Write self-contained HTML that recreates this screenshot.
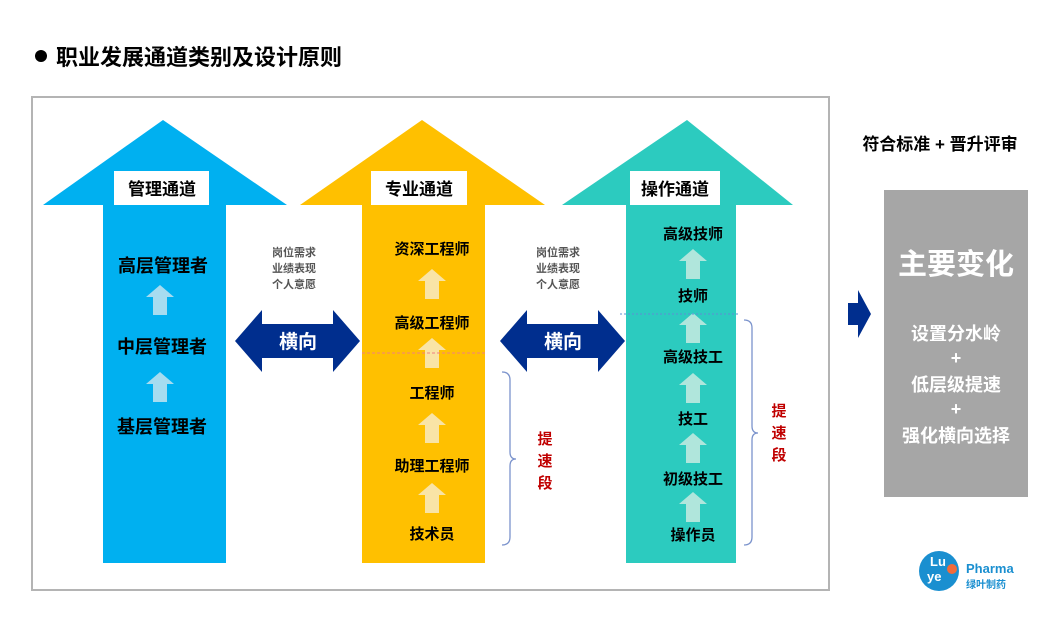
<!DOCTYPE html>
<html><head><meta charset="utf-8"><style>
body{margin:0;background:#fff;}
svg text{font-family:"Liberation Sans","Noto Sans CJK SC",sans-serif;font-weight:bold;}
</style></head><body>
<svg width="1057" height="631" viewBox="0 0 1057 631" xmlns="http://www.w3.org/2000/svg">
<defs>
<g id="ua"><polygon points="0,-15 -14,-3 -7,-3 -7,15 7,15 7,-3 14,-3"/></g>
</defs>
<circle cx="41" cy="56" r="6" fill="#000"/>
<text x="56" y="65" font-size="22" fill="#000">职业发展通道类别及设计原则</text>
<rect x="32" y="97" width="797" height="493" fill="none" stroke="#b4b4b4" stroke-width="2"/>

<!-- blue arrow -->
<polygon points="163,120 287,205 226,205 226,563 103,563 103,205 43,205" fill="#00b0f0"/>
<rect x="114" y="171" width="95" height="34" fill="#fff"/>
<text x="162" y="195" font-size="17" text-anchor="middle">管理通道</text>
<g fill="#000" font-size="18" text-anchor="middle">
<text x="163" y="272">高层管理者</text>
<text x="162" y="353">中层管理者</text>
<text x="162" y="433">基层管理者</text>
</g>
<g fill="#a6dcf0"><use href="#ua" x="160" y="300"/><use href="#ua" x="160" y="387"/></g>

<!-- yellow arrow -->
<polygon points="422,120 545,205 485,205 485,563 362,563 362,205 300,205" fill="#ffc000"/>
<rect x="371" y="171" width="96" height="34" fill="#fff"/>
<text x="419" y="195" font-size="17" text-anchor="middle">专业通道</text>
<g fill="#f9e4a6"><use href="#ua" x="432" y="284"/><use href="#ua" x="432" y="353"/><use href="#ua" x="432" y="428"/><use href="#ua" x="432" y="498"/></g>
<line x1="362" y1="353" x2="485" y2="353" stroke="#f08080" stroke-dasharray="3,2" stroke-width="1"/>
<g fill="#000" font-size="15" text-anchor="middle">
<text x="432" y="254">资深工程师</text>
<text x="432" y="328">高级工程师</text>
<text x="432" y="398">工程师</text>
<text x="432" y="471">助理工程师</text>
<text x="432" y="539">技术员</text>
</g>

<!-- teal arrow -->
<polygon points="687,120 793,205 736,205 736,563 626,563 626,205 562,205" fill="#2ccbbf"/>
<rect x="630" y="171" width="90" height="34" fill="#fff"/>
<text x="675" y="195" font-size="17" text-anchor="middle">操作通道</text>
<g fill="#b0e6dc"><use href="#ua" x="693" y="264"/><use href="#ua" x="693" y="328"/><use href="#ua" x="693" y="388"/><use href="#ua" x="693" y="448"/><use href="#ua" x="693" y="507"/></g>
<line x1="620" y1="314" x2="740" y2="314" stroke="#5b8fd6" stroke-dasharray="2,2" stroke-width="1"/>
<g fill="#000" font-size="15" text-anchor="middle">
<text x="693" y="239">高级技师</text>
<text x="693" y="301">技师</text>
<text x="693" y="362">高级技工</text>
<text x="693" y="424">技工</text>
<text x="693" y="484">初级技工</text>
<text x="693" y="540">操作员</text>
</g>

<!-- double arrows -->
<polygon points="235,341 262,310 262,324 333,324 333,310 360,341 333,372 333,358 262,358 262,372" fill="#002e8e"/>
<text x="298" y="348" font-size="19" fill="#fff" text-anchor="middle">横向</text>
<polygon points="500,341 527,310 527,324 598,324 598,310 625,341 598,372 598,358 527,358 527,372" fill="#002e8e"/>
<text x="563" y="348" font-size="19" fill="#fff" text-anchor="middle">横向</text>
<g font-size="11" fill="#555" text-anchor="middle">
<text x="294" y="256" font-weight="normal">岗位需求</text>
<text x="294" y="272" font-weight="normal">业绩表现</text>
<text x="294" y="288" font-weight="normal">个人意愿</text>
<text x="558" y="256" font-weight="normal">岗位需求</text>
<text x="558" y="272" font-weight="normal">业绩表现</text>
<text x="558" y="288" font-weight="normal">个人意愿</text>
</g>

<!-- brackets -->
<path d="M502,372 Q510,372 510,380 L510,452 Q510,459 516,459 Q510,459 510,466 L510,537 Q510,545 502,545" fill="none" stroke="#7b93cc" stroke-width="1.3"/>
<path d="M744,320 Q752,320 752,328 L752,426 Q752,433 758,433 Q752,433 752,440 L752,537 Q752,545 744,545" fill="none" stroke="#7b93cc" stroke-width="1.3"/>
<g fill="#c00000" font-size="15" text-anchor="middle">
<text x="545" y="444">提</text><text x="545" y="466">速</text><text x="545" y="488">段</text>
<text x="779" y="416">提</text><text x="779" y="438">速</text><text x="779" y="460">段</text>
</g>

<!-- right side -->
<text x="940" y="150" font-size="17" fill="#000" text-anchor="middle">符合标准 + 晋升评审</text>
<polygon points="848,303 858,303 858,290 871,314 858,338 858,325 848,325" fill="#002e8e"/>
<rect x="884" y="190" width="144" height="307" fill="#a6a6a6"/>
<text x="956" y="274" font-size="29" fill="#fff" text-anchor="middle">主要变化</text>
<g fill="#fff" font-size="18" text-anchor="middle">
<text x="956" y="340">设置分水岭</text>
<text x="956" y="364">+</text>
<text x="956" y="391">低层级提速</text>
<text x="956" y="415">+</text>
<text x="956" y="442">强化横向选择</text>
</g>
<!-- logo -->
<circle cx="939" cy="571" r="20" fill="#1a8fd0"/>
<circle cx="952" cy="569" r="5" fill="#f26b3a"/>
<text x="930" y="566" font-size="13" fill="#fff">Lu</text>
<text x="927" y="581" font-size="13" fill="#fff">ye</text>
<text x="966" y="573" font-size="13" fill="#1a8fd0" font-weight="normal">Pharma</text>
<text x="966" y="588" font-size="10" fill="#1a8fd0" font-weight="normal">绿叶制药</text>
</svg>
</body></html>
